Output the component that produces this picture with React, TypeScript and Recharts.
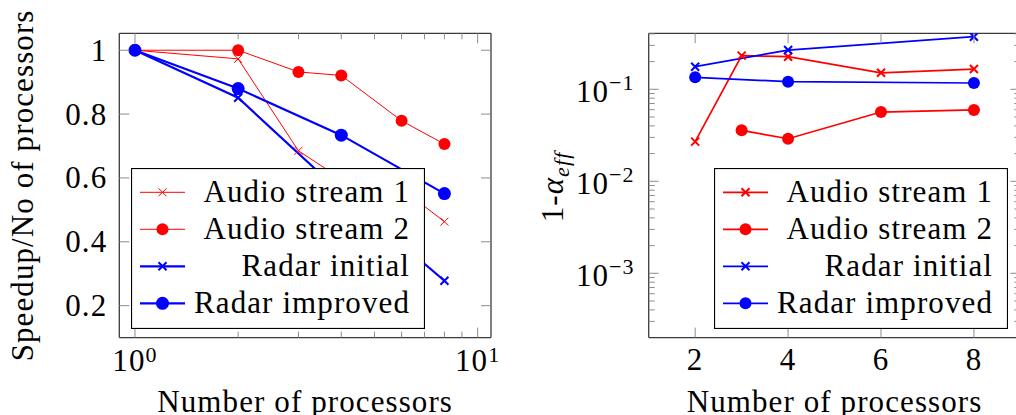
import React from "react";
import { Label, Legend, Line, LineChart, XAxis, YAxis } from "recharts";

const RED = "#ff0000";
const BLUE = "#0000ff";
const FRAME = "#3a3a3a";
const TICK = "#8c8c8c";
const FONT = "'Liberation Serif', 'Times New Roman', serif";
const FS = 31;
const SUP = 22;
const MAJOR = 10;
const MINOR = 6;

const seriesNames = ["Audio stream 1", "Audio stream 2", "Radar initial", "Radar improved"];

// left panel: speedup / number of processors
const procsAudio1 = [1, 2, 3, 4, 6, 8];
const speedupAudio1 = [1, 0.973, 0.685, 0.597, 0.566, 0.463];
const procsAudio2 = [1, 2, 3, 4, 6, 8];
const speedupAudio2 = [1, 1, 0.932, 0.921, 0.779, 0.706];
const procsRadar = [1, 2, 4, 8];
const speedupRadarInitial = [1, 0.851, 0.553, 0.278];
const speedupRadarImproved = [1, 0.88, 0.734, 0.551];

// right panel: 1 - alpha_eff
const procsAudio1Serial = [2, 3, 4, 6, 8];
const serialAudio1 = [0.027, 0.232, 0.226, 0.151, 0.166];
const procsAudio2Serial = [3, 4, 6, 8];
const serialAudio2 = [0.0358, 0.029, 0.0566, 0.0596];
const procsRadarSerial = [2, 4, 8];
const serialRadarInitial = [0.176, 0.267, 0.373];
const serialRadarImproved = [0.135, 0.121, 0.117];

// ticks
const logProcTicks = [1, 2, 3, 4, 5, 6, 7, 8, 9, 10];
const speedupTicks = [0.2, 0.4, 0.6, 0.8, 1];
const procTicks = [2, 4, 6, 8];
const serialTicks = [
  0.0003, 0.0004, 0.0005, 0.0006, 0.0007, 0.0008, 0.0009, 0.001,
  0.002, 0.003, 0.004, 0.005, 0.006, 0.007, 0.008, 0.009, 0.01,
  0.02, 0.03, 0.04, 0.05, 0.06, 0.07, 0.08, 0.09, 0.1,
  0.2, 0.3, 0.4,
];

type Pt = { x: number; y: number };
const zip = (xs: number[], ys: number[]): Pt[] => xs.map((x, i) => ({ x, y: ys[i] }));

type SeriesStyle = {
  color: string;
  lineWidth: number;
  marker: "cross" | "circle";
  size: number;
  markerWidth?: number;
};

const leftStyles: SeriesStyle[] = [
  { color: RED, lineWidth: 1, marker: "cross", size: 4, markerWidth: 1 },
  { color: RED, lineWidth: 1, marker: "circle", size: 6 },
  { color: BLUE, lineWidth: 2.2, marker: "cross", size: 4, markerWidth: 2 },
  { color: BLUE, lineWidth: 2.2, marker: "circle", size: 6.5 },
];

const rightStyles: SeriesStyle[] = [
  { color: RED, lineWidth: 1.7, marker: "cross", size: 4, markerWidth: 2 },
  { color: RED, lineWidth: 1.7, marker: "circle", size: 6 },
  { color: BLUE, lineWidth: 1.7, marker: "cross", size: 4, markerWidth: 2 },
  { color: BLUE, lineWidth: 1.7, marker: "circle", size: 6 },
];

const speedupData = [
  zip(procsAudio1, speedupAudio1),
  zip(procsAudio2, speedupAudio2),
  zip(procsRadar, speedupRadarInitial),
  zip(procsRadar, speedupRadarImproved),
];

const serialData = [
  zip(procsAudio1Serial, serialAudio1),
  zip(procsAudio2Serial, serialAudio2),
  zip(procsRadarSerial, serialRadarInitial),
  zip(procsRadarSerial, serialRadarImproved),
];

const textStyle: React.CSSProperties = { fontFamily: FONT, fontSize: FS, letterSpacing: "1.1px", fill: "#000" };

const isDecade = (v: number) => Math.abs(Math.log10(v) - Math.round(Math.log10(v))) < 1e-6;

function marker(style: SeriesStyle, cx: number, cy: number, key?: React.Key) {
  if (style.marker === "circle") {
    return <circle key={key} cx={cx} cy={cy} r={style.size} fill={style.color} />;
  }
  const s = style.size;
  return (
    <path
      key={key}
      d={`M${cx - s},${cy - s}L${cx + s},${cy + s}M${cx - s},${cy + s}L${cx + s},${cy - s}`}
      stroke={style.color}
      strokeWidth={style.markerWidth}
      fill="none"
    />
  );
}

const dotFor = (style: SeriesStyle) => (props: any) => {
  const { cx, cy, index } = props;
  if (cx == null || cy == null) return <g key={index} />;
  return marker(style, cx, cy, index);
};

// tick renderers (tickSize 0 -> x/y sit on the frame edge)
function LogBottomTick(props: any) {
  const { x, y, payload } = props;
  const v = payload.value;
  const major = isDecade(v);
  return (
    <g>
      <line x1={x} x2={x} y1={y} y2={y - (major ? MAJOR : MINOR)} stroke={TICK} />
      {major && (
        <text x={x} y={y + 33.5} textAnchor="middle" style={textStyle}>
          <tspan>10</tspan>
          <tspan dy={-9} fontSize={SUP}>{Math.round(Math.log10(v))}</tspan>
        </text>
      )}
    </g>
  );
}

function LogTopTick(props: any) {
  const { x, y, payload } = props;
  const major = isDecade(payload.value);
  return <line x1={x} x2={x} y1={y} y2={y + (major ? MAJOR : MINOR)} stroke={TICK} />;
}

function LinBottomTick(props: any) {
  const { x, y, payload } = props;
  return (
    <g>
      <line x1={x} x2={x} y1={y} y2={y - MAJOR} stroke={TICK} />
      <text x={x} y={y + 32.5} textAnchor="middle" style={textStyle}>
        {payload.value}
      </text>
    </g>
  );
}

function LinTopTick(props: any) {
  const { x, y } = props;
  return <line x1={x} x2={x} y1={y} y2={y + MAJOR} stroke={TICK} />;
}

function SpeedupLeftTick(props: any) {
  const { x, y, payload } = props;
  const v = payload.value;
  return (
    <g>
      <line x1={x} x2={x + MAJOR} y1={y} y2={y} stroke={TICK} />
      <text x={x - 12} y={y + 10.5} textAnchor="end" style={textStyle}>
        {v === 1 ? "1" : v.toFixed(1)}
      </text>
    </g>
  );
}

function LinRightTick(props: any) {
  const { x, y } = props;
  return <line x1={x} x2={x - MAJOR} y1={y} y2={y} stroke={TICK} />;
}

function SerialLeftTick(props: any) {
  const { x, y, payload } = props;
  const v = payload.value;
  const major = isDecade(v);
  return (
    <g>
      <line x1={x} x2={x + (major ? MAJOR : MINOR)} y1={y} y2={y} stroke={TICK} />
      {major && (
        <text x={x - 14} y={y + 13} textAnchor="end" style={textStyle}>
          <tspan>10</tspan>
          <tspan dy={-12} fontSize={SUP}>{"\u2212" + Math.abs(Math.round(Math.log10(v)))}</tspan>
        </text>
      )}
    </g>
  );
}

function LogRightTick(props: any) {
  const { x, y, payload } = props;
  const major = isDecade(payload.value);
  return <line x1={x} x2={x - (major ? MAJOR : MINOR)} y1={y} y2={y} stroke={TICK} />;
}

function makeLegend(styles: SeriesStyle[]) {
  return () => (
    <svg width={294} height={161} style={{ display: "block" }}>
      <rect x={0.5} y={0.5} width={293} height={160} fill="#fff" stroke="#000" strokeWidth={1.2} />
      {seriesNames.map((name, i) => {
        const cy = 24.3 + i * 37;
        const st = styles[i];
        return (
          <g key={name}>
            <line x1={9} x2={54} y1={cy} y2={cy} stroke={st.color} strokeWidth={st.lineWidth} />
            {marker(st, 31.5, cy)}
            <text x={279} y={cy + 10} textAnchor="end" style={textStyle}>
              {name}
            </text>
          </g>
        );
      })}
    </svg>
  );
}

const frameLine = { stroke: FRAME, strokeWidth: 1.3 };

function SpeedupChart() {
  return (
    <LineChart width={508} height={415} margin={{ top: 33.3, right: 17, bottom: 0, left: 0 }}>
      <XAxis
        xAxisId="b"
        dataKey="x"
        type="number"
        scale="log"
        domain={[0.9, 10.94]}
        allowDataOverflow
        ticks={logProcTicks}
        interval={0}
        tickSize={0}
        tickMargin={0}
        tickLine={false}
        tick={LogBottomTick}
        axisLine={frameLine}
        height={77.4}
      >
        <Label
          content={(p: any) => (
            <text x={p.viewBox.x + p.viewBox.width / 2} y={p.viewBox.y + 74.5} textAnchor="middle" style={textStyle}>
              Number of processors
            </text>
          )}
        />
      </XAxis>
      <XAxis
        xAxisId="t"
        orientation="top"
        mirror
        dataKey="x"
        type="number"
        scale="log"
        domain={[0.9, 10.94]}
        allowDataOverflow
        ticks={logProcTicks}
        interval={0}
        tickSize={0}
        tickMargin={0}
        tickLine={false}
        tick={LogTopTick}
        axisLine={frameLine}
      />
      <YAxis
        yAxisId="l"
        type="number"
        domain={[0.1, 1.053]}
        allowDataOverflow
        ticks={speedupTicks}
        interval={0}
        tickSize={0}
        tickMargin={0}
        tickLine={false}
        tick={SpeedupLeftTick}
        axisLine={frameLine}
        width={119.3}
      >
        <Label
          content={(p: any) => {
            const cx = p.viewBox.x + 33.3;
            const cy = p.viewBox.y + p.viewBox.height / 2;
            return (
              <text x={cx} y={cy} transform={`rotate(-90 ${cx} ${cy})`} textAnchor="middle" style={textStyle}>
                Speedup/No of processors
              </text>
            );
          }}
        />
      </YAxis>
      <YAxis
        yAxisId="r"
        orientation="right"
        mirror
        type="number"
        domain={[0.1, 1.053]}
        allowDataOverflow
        ticks={speedupTicks}
        interval={0}
        tickSize={0}
        tickMargin={0}
        tickLine={false}
        tick={LinRightTick}
        axisLine={frameLine}
      />
      {speedupData.map((data, i) => (
        <Line
          key={seriesNames[i]}
          name={seriesNames[i]}
          data={data}
          dataKey="y"
          xAxisId="b"
          yAxisId="l"
          type="linear"
          stroke={leftStyles[i].color}
          strokeWidth={leftStyles[i].lineWidth}
          dot={dotFor(leftStyles[i])}
          activeDot={false}
          isAnimationActive={false}
        />
      ))}
      <Legend
        layout="vertical"
        align="center"
        verticalAlign="middle"
        content={makeLegend(leftStyles)}
        wrapperStyle={{ left: 130.7, top: 167.7, width: 294, height: 161 }}
      />
    </LineChart>
  );
}

function SerialChart() {
  return (
    <LineChart width={520} height={415} margin={{ top: 33.3, right: 7.6, bottom: 0, left: 0 }}>
      <XAxis
        xAxisId="b"
        dataKey="x"
        type="number"
        domain={[1, 9]}
        allowDataOverflow
        ticks={procTicks}
        interval={0}
        tickSize={0}
        tickMargin={0}
        tickLine={false}
        tick={LinBottomTick}
        axisLine={frameLine}
        height={77.4}
      >
        <Label
          content={(p: any) => (
            <text x={p.viewBox.x + p.viewBox.width / 2} y={p.viewBox.y + 74.5} textAnchor="middle" style={textStyle}>
              Number of processors
            </text>
          )}
        />
      </XAxis>
      <XAxis
        xAxisId="t"
        orientation="top"
        mirror
        dataKey="x"
        type="number"
        domain={[1, 9]}
        allowDataOverflow
        ticks={procTicks}
        interval={0}
        tickSize={0}
        tickMargin={0}
        tickLine={false}
        tick={LinTopTick}
        axisLine={frameLine}
      />
      <YAxis
        yAxisId="l"
        type="number"
        scale="log"
        domain={[0.0002, 0.406]}
        allowDataOverflow
        ticks={serialTicks}
        interval={0}
        tickSize={0}
        tickMargin={0}
        tickLine={false}
        tick={SerialLeftTick}
        axisLine={frameLine}
        width={140.7}
      >
        <Label
          content={(p: any) => {
            const cx = p.viewBox.x + 55;
            const cy = p.viewBox.y + p.viewBox.height / 2 + 1.5;
            return (
              <text x={cx} y={cy} transform={`rotate(-90 ${cx} ${cy})`} textAnchor="middle" style={textStyle}>
                <tspan>1-</tspan>
                <tspan fontStyle="italic">α</tspan>
                <tspan fontStyle="italic" fontSize={SUP} dy={6}>eff</tspan>
              </text>
            );
          }}
        />
      </YAxis>
      <YAxis
        yAxisId="r"
        orientation="right"
        mirror
        type="number"
        scale="log"
        domain={[0.0002, 0.406]}
        allowDataOverflow
        ticks={serialTicks}
        interval={0}
        tickSize={0}
        tickMargin={0}
        tickLine={false}
        tick={LogRightTick}
        axisLine={frameLine}
      />
      {serialData.map((data, i) => (
        <Line
          key={seriesNames[i]}
          name={seriesNames[i]}
          data={data}
          dataKey="y"
          xAxisId="b"
          yAxisId="l"
          type="linear"
          stroke={rightStyles[i].color}
          strokeWidth={rightStyles[i].lineWidth}
          dot={dotFor(rightStyles[i])}
          activeDot={false}
          isAnimationActive={false}
        />
      ))}
      <Legend
        layout="vertical"
        align="center"
        verticalAlign="middle"
        content={makeLegend(rightStyles)}
        wrapperStyle={{ left: 206.3, top: 167.7, width: 294, height: 161 }}
      />
    </LineChart>
  );
}

export default function App() {
  return (
    <div
      style={{
        position: "absolute",
        left: 0,
        top: 0,
        width: 1016,
        height: 415,
        overflow: "hidden",
        background: "#fff",
      }}
    >
      <div style={{ position: "absolute", left: 0, top: 0 }}>
        <SpeedupChart />
      </div>
      <div style={{ position: "absolute", left: 508, top: 0 }}>
        <SerialChart />
      </div>
    </div>
  );
}
